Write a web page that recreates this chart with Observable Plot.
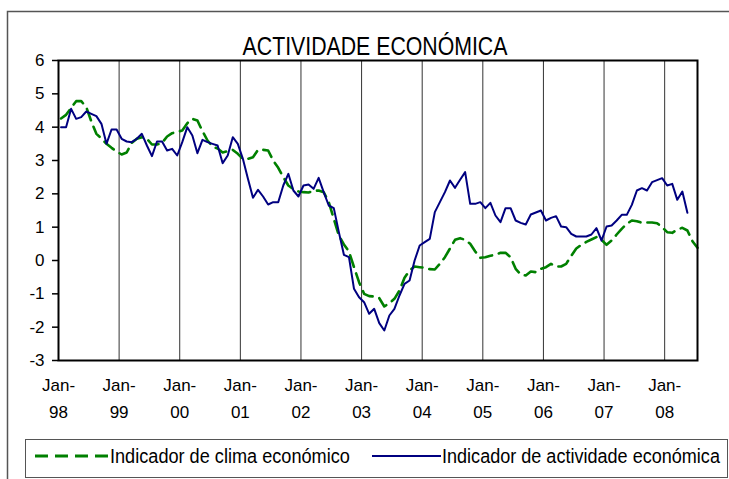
<!DOCTYPE html>
<html><head><meta charset="utf-8">
<script src="https://cdn.jsdelivr.net/npm/d3@7"></script>
<script src="https://cdn.jsdelivr.net/npm/@observablehq/plot@0.6"></script>
<style>body{margin:0;background:#fff} svg{display:block}</style>
</head><body><div id="chart"></div>
<script>
const title = "ACTIVIDADE ECONÓMICA";
const seriesNames = ["Indicador de clima económico", "Indicador de actividade económica"];
const tickYears = ["98","99","00","01","02","03","04","05","06","07","08"];
const yTicks = [-3,-2,-1,0,1,2,3,4,5,6];
// monthly values, Jan 1998 onwards
const clima = [
 4.26,4.37,4.58,4.78,4.78,4.6,4.17,3.8,3.66,3.5,3.38,3.27,
 3.18,3.24,3.53,3.65,3.7,3.65,3.48,3.48,3.53,3.72,3.82,3.86,
 3.9,4.12,4.25,4.2,3.88,3.6,3.42,3.36,3.24,3.28,3.32,3.2,
 3.05,3.05,3.1,3.32,3.32,3.3,3.0,2.78,2.5,2.25,2.14,2.07,
 2.05,2.04,2.09,2.1,2.05,1.75,1.25,0.75,0.48,0.27,-0.2,-0.65,
 -1.0,-1.07,-1.08,-1.13,-1.38,-1.28,-1.15,-0.9,-0.52,-0.3,-0.18,-0.2,
 -0.22,-0.26,-0.27,-0.1,0.1,0.36,0.62,0.67,0.62,0.5,0.27,0.08,
 0.1,0.14,0.18,0.23,0.23,0.1,-0.25,-0.42,-0.45,-0.33,-0.35,-0.25,
 -0.2,-0.1,-0.18,-0.18,-0.1,0.14,0.36,0.47,0.56,0.63,0.7,0.62,
 0.47,0.6,0.78,0.95,1.1,1.2,1.18,1.13,1.14,1.14,1.12,1.0,
 0.85,0.83,0.93,0.98,0.9,0.58,0.38
];
const actividade = [
 4.0,4.0,4.55,4.25,4.3,4.47,4.4,4.33,4.1,3.5,3.93,3.93,
 3.65,3.57,3.55,3.65,3.8,3.45,3.13,3.57,3.57,3.3,3.35,3.15,
 3.55,4.0,3.75,3.22,3.62,3.55,3.5,3.45,2.92,3.15,3.7,3.5,
 3.05,2.45,1.88,2.12,1.92,1.68,1.75,1.75,2.25,2.6,2.1,1.92,
 2.25,2.28,2.15,2.48,2.05,1.65,1.57,0.85,0.17,0.1,-0.85,-1.1,
 -1.25,-1.6,-1.45,-1.88,-2.1,-1.65,-1.45,-1.05,-0.7,-0.6,0.0,0.45,
 0.55,0.65,1.45,1.75,2.05,2.4,2.18,2.42,2.65,1.7,1.7,1.75,
 1.57,1.73,1.35,1.15,1.57,1.57,1.2,1.13,1.08,1.38,1.44,1.5,
 1.2,1.28,1.33,1.02,1.0,0.8,0.72,0.72,0.72,0.78,0.97,0.6,
 1.02,1.05,1.2,1.37,1.37,1.67,2.1,2.17,2.1,2.35,2.41,2.47,
 2.25,2.3,1.82,2.07,1.43
];
const colors = ["#008000", "#000080"];

const climaRows = clima.map((v, i) => ({m: i + 0.5, v}));
const actRows = actividade.map((v, i) => ({m: i + 0.5, v}));
const tickMonths = tickYears.map((_, k) => k * 12);
const gridMonths = tickMonths.slice(1);

const font = "'Liberation Sans', Arial, sans-serif";
const plot = Plot.plot({
  width: 729, height: 479,
  marginTop: 60, marginBottom: 119, marginLeft: 58, marginRight: 32,
  style: {fontFamily: font, fontSize: "17px", color: "#000", background: "#fff", overflow: "visible"},
  x: {domain: [0, 126.5], label: null},
  y: {domain: [-3, 6], label: null},
  marks: [
    Plot.ruleX(gridMonths, {stroke: "#333", strokeWidth: 1}),
    Plot.line(climaRows, {x: "m", y: "v", stroke: colors[0], strokeWidth: 2.6, strokeDasharray: "12,7"}),
    Plot.line(actRows, {x: "m", y: "v", stroke: colors[1], strokeWidth: 2}),
    Plot.frame({stroke: "#000", strokeWidth: 2}),
    Plot.axisY({ticks: yTicks, tickSize: 6, tickPadding: 8, tickFormat: d => String(d), label: null, fontSize: 17, strokeWidth: 1.5}),
    Plot.axisX({ticks: tickMonths, tickSize: 0, tickPadding: 11, tickFormat: d => "Jan-\n" + tickYears[d / 12], lineHeight: 1.6, label: null, fontSize: 17})
  ]
});
document.getElementById("chart").appendChild(plot);

const svg = d3.select(plot);
svg.insert("path", ":first-child")
  .attr("d", "M7.5,479V11.5H729").attr("fill", "none").attr("stroke", "#555").attr("stroke-width", 1.5);

// text squeezed horizontally to a target width (condensed look of the original)
function squeezed(parent, str, x, y, size, width, anchor) {
  const t = parent.append("text").text(str)
    .attr("font-family", font).attr("font-size", size)
    .attr("text-anchor", anchor).attr("fill", "#000");
  const natural = t.node().getComputedTextLength();
  const k = Math.min(1, width / natural);
  t.attr("transform", `translate(${x},${y}) scale(${k},1)`);
  return t;
}
squeezed(svg, title, 375, 55, 26, 265, "middle");

const lg = svg.append("g").attr("text-anchor", "start");
lg.append("rect").attr("x", 25.5).attr("y", 439.5).attr("width", 702).attr("height", 38)
  .attr("fill", "#fff").attr("stroke", "#555").attr("stroke-width", 1);
lg.append("path").attr("d", "M35,456H109").attr("stroke", colors[0]).attr("stroke-width", 3).attr("stroke-dasharray", "13,7");
lg.append("path").attr("d", "M372,456H441").attr("stroke", colors[1]).attr("stroke-width", 1.8);
squeezed(lg, seriesNames[0], 110, 463, 21, 240, "start");
squeezed(lg, seriesNames[1], 442, 463, 21, 278, "start");
</script>
</body></html>
